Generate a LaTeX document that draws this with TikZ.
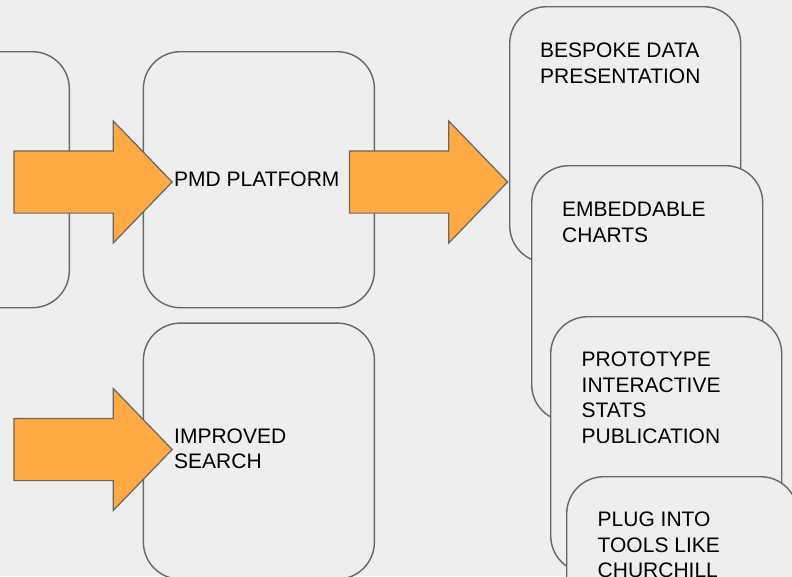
\documentclass[tikz,border=0pt]{standalone}
\usepackage{fontspec}
\setmainfont{Liberation Sans}
\usetikzlibrary{positioning,%
                shapes.arrows}

\definecolor{paper}{HTML}{EEEEEE}
\definecolor{edge}{HTML}{666666}
\definecolor{flow}{HTML}{FFAA44}

\begin{document}
\begin{tikzpicture}[x=1pt, y=-1pt]
  \tikzset{box/.style = {draw = edge, line width = 1.4pt, fill = paper,
                         rounded corners = 37pt, inner sep = 0,
                         minimum width = 231pt, minimum height = 256pt},
           bigarrow/.style = {single arrow, draw = edge, line width = 1.2pt,
                              fill = flow, minimum size = 0pt,
                              inner xsep = 63.5pt, inner ysep = 30.5pt,
                              single arrow head extend = 30pt,
                              single arrow tip angle = 92},
           caption/.style = {font = \fontsize{21}{25.5}\selectfont,
                             align = left, inner sep = 0}}
\fill[paper] (0,0) rectangle (792,576);
\clip (0,0) rectangle (792,576);

% boxes
\node[box, anchor = north east] (source) at (70,51) {};
\node[box, right = 72.7pt of source] (pmd) {};
\node[box, below = 14pt of pmd] (search) {};
\node[box, anchor = north west] (bespoke) at (509,6) {};
\node[box, below right = 159pt and 22pt of bespoke.north west] (embed) {};
\node[box, below right = 151pt and 19pt of embed.north west] (proto) {};
\node[box, below right = 160pt and 16pt of proto.north west] (plug) {};

% arrows
\node[bigarrow, anchor = tip] (intake) at (173,182) {};
\node[bigarrow, anchor = tip] (outlet) at (508.5,182) {};
\node[bigarrow, anchor = tip] (lookup) at (173,449.5) {};

% texts
\node[caption, anchor = west] (pmdtext) at (174,179.5) {PMD PLATFORM};
\node[caption, anchor = west] (searchtext) at (174,449) {IMPROVED\\SEARCH};
\node[caption, below right = 37pt and 31pt of bespoke.north west] (bespoketext)
  {BESPOKE DATA\\PRESENTATION};
\node[caption, below right = 37pt and 31pt of embed.north west] (embedtext)
  {EMBEDDABLE\\CHARTS};
\node[caption, below right = 36pt and 31.5pt of proto.north west] (prototext)
  {PROTOTYPE\\INTERACTIVE\\STATS\\PUBLICATION};
\node[caption, below right = 36pt and 31.5pt of plug.north west] (plugtext)
  {PLUG INTO\\TOOLS LIKE\\CHURCHILL};

\end{tikzpicture}
\end{document}
